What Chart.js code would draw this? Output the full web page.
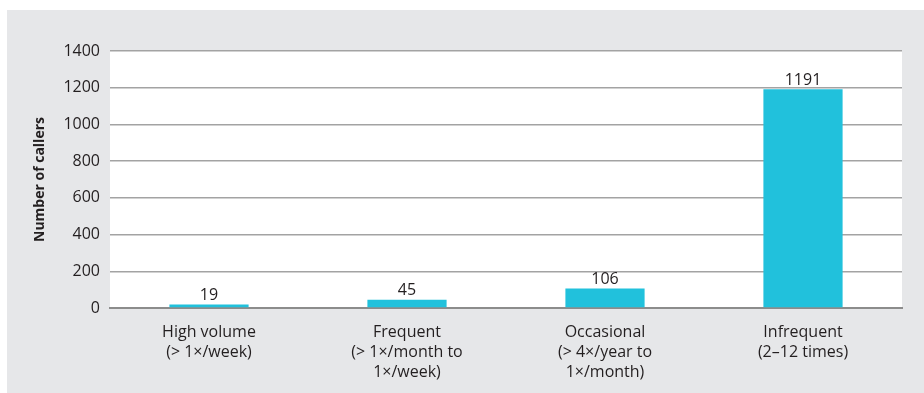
<!DOCTYPE html>
<html>
<head>
<meta charset="utf-8">
<script src="https://cdn.jsdelivr.net/npm/chart.js@4"></script>
<style>
  html, body { margin: 0; padding: 0; background: #fff; }
  #panel { position: absolute; left: 7px; top: 10px; width: 917px; height: 383px; background: #e6e7e9; }
</style>
</head>
<body>
<div id="panel"><canvas id="chart" width="917" height="383"></canvas></div>
<script>
const categories = [
  ['High volume', '(> 1×/week)'],
  ['Frequent', '(> 1×/month to', '1×/week)'],
  ['Occasional', '(> 4×/year to', '1×/month)'],
  ['Infrequent', '(2–12 times)'],
];
const callers = [19, 45, 106, 1191];
const yTicks = [0, 200, 400, 600, 800, 1000, 1200, 1400];

const TEXT = '#231f20';
const BAR = '#21c1dc';
const FONT = "'Open Sans', sans-serif";

// white plot area behind the bars
const plotBg = {
  id: 'plotBg',
  beforeDraw(chart) {
    const { ctx, chartArea: a } = chart;
    ctx.save();
    ctx.fillStyle = '#fff';
    ctx.fillRect(a.left, a.top, a.right - a.left, a.bottom - a.top);
    ctx.restore();
  },
};

// value above each bar
const valueLabels = {
  id: 'valueLabels',
  afterDatasetsDraw(chart) {
    const { ctx } = chart;
    const meta = chart.getDatasetMeta(0);
    ctx.save();
    ctx.fillStyle = TEXT;
    ctx.font = '16px ' + FONT;
    ctx.textAlign = 'center';
    ctx.textBaseline = 'bottom';
    meta.data.forEach((bar, i) => {
      ctx.fillText(String(callers[i]), bar.x, bar.y - 1);
    });
    ctx.restore();
  },
};

new Chart(document.getElementById('chart'), {
  type: 'bar',
  data: {
    labels: categories,
    datasets: [{
      data: callers,
      backgroundColor: BAR,
      barPercentage: 0.8,
      categoryPercentage: 0.5,
    }],
  },
  options: {
    responsive: false,
    animation: false,
    layout: { padding: { top: 41, right: 22, left: 0, bottom: 0 } },
    plugins: { legend: { display: false }, tooltip: { enabled: false } },
    scales: {
      x: {
        grid: { display: false },
        border: { color: '#8c8c8c', width: 2 },
        ticks: { color: TEXT, font: { family: FONT, size: 16, lineHeight: 1.25 }, padding: 6, maxRotation: 0, autoSkip: false },
        afterFit: (s) => { s.height = 85; },
      },
      y: {
        min: 0,
        max: 1400,
        afterBuildTicks: (s) => { s.ticks = yTicks.map(v => ({ value: v })); },
        grid: { color: '#a3a3a3', lineWidth: 1.5, drawTicks: false },
        border: { display: false },
        ticks: { color: TEXT, font: { family: FONT, size: 16 }, padding: 10, callback: (v) => String(v) },
        title: {
          display: true,
          text: 'Number of callers',
          color: TEXT,
          font: { family: FONT, size: 14, weight: 'bold' },
          padding: { top: 25, bottom: 0 },
        },
        afterFit: (s) => { s.width = 103; },
      },
    },
  },
  plugins: [plotBg, valueLabels],
});
</script>
</body>
</html>
